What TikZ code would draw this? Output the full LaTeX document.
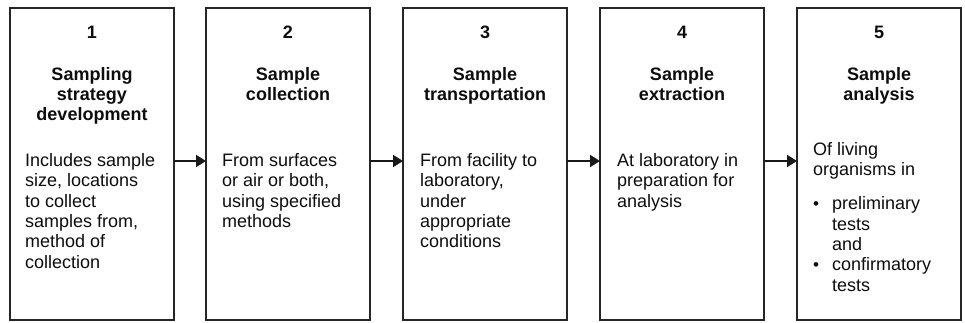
\documentclass[tikz,border=0pt]{standalone}
\usepackage{fontspec}
\setmainfont{Liberation Sans}
\usetikzlibrary{arrows.meta}
\newcommand\tstrut{\rule{0pt}{14pt}}
\newcommand\smbul{\makebox[19pt][l]{\raisebox{0.3pt}{\fontsize{17}{17}\selectfont\textbullet}}}
\newcommand\ind{\hspace*{19pt}}
\begin{document}
\begin{tikzpicture}[x=1pt,y=1pt,
  box/.style={rectangle, draw=black!85, line width=1.4pt, minimum width=164pt, minimum height=312pt, inner sep=0pt, outer sep=0pt},
  num/.style={font=\fontsize{18}{20.4}\selectfont\bfseries, text=black!95, inner sep=0pt, anchor=base},
  title/.style={font=\fontsize{18}{20}\selectfont\bfseries, text=black!95, inner sep=0pt, anchor=north, align=center},
  body/.style={font=\fontsize{18}{20.4}\selectfont, text=black!95, inner sep=0pt, anchor=north west, align=left},
  flow/.style={-{Triangle[length=10pt,width=12pt]}, line width=2pt, draw=black!90}]
\useasboundingbox (0,0) rectangle (965,322);
% boxes
\node[box] (b1) at (92,158) {};
\node[box] (b2) at (288,158) {};
\node[box] (b3) at (485,158) {};
\node[box] (b4) at (682,158) {};
\node[box] (b5) at (879,158) {};
% numbers
\node[num] (n1) at (92,283.5) {1};
\node[num] (n2) at (288,283.5) {2};
\node[num] (n3) at (485,283.5) {3};
\node[num] (n4) at (682,283.5) {4};
\node[num] (n5) at (879,283.5) {5};
% titles
\node[title] (t1) at (92,256) {\tstrut Sampling\\strategy\\development};
\node[title] (t2) at (288,256) {\tstrut Sample\\collection};
\node[title] (t3) at (485,256) {\tstrut Sample\\transportation};
\node[title] (t4) at (682,256) {\tstrut Sample\\extraction};
\node[title] (t5) at (879,256) {\tstrut Sample\\analysis};
% bodies
\node[body] (d1) at (25,170) {\tstrut Includes sample\\size, locations\\to collect\\samples from,\\method of\\collection};
\node[body] (d2) at (222,170) {\tstrut From surfaces\\or air or both,\\using specified\\methods};
\node[body] (d3) at (420,170) {\tstrut From facility to\\laboratory,\\under\\appropriate\\conditions};
\node[body] (d4) at (617,170) {\tstrut At laboratory in\\preparation for\\analysis};
\node[body] (d5) at (813,181) {\tstrut Of living\\organisms in\\[13.6pt]\smbul preliminary\\\ind tests\\\ind and\\\smbul confirmatory\\\ind tests};
% connectors
\draw[flow] ([yshift=3pt]b1.east) -- ([yshift=3pt]b2.west);
\draw[flow] ([yshift=3pt]b2.east) -- ([yshift=3pt]b3.west);
\draw[flow] ([yshift=3pt]b3.east) -- ([yshift=3pt]b4.west);
\draw[flow] ([yshift=3pt]b4.east) -- ([yshift=3pt]b5.west);
\end{tikzpicture}
\end{document}
